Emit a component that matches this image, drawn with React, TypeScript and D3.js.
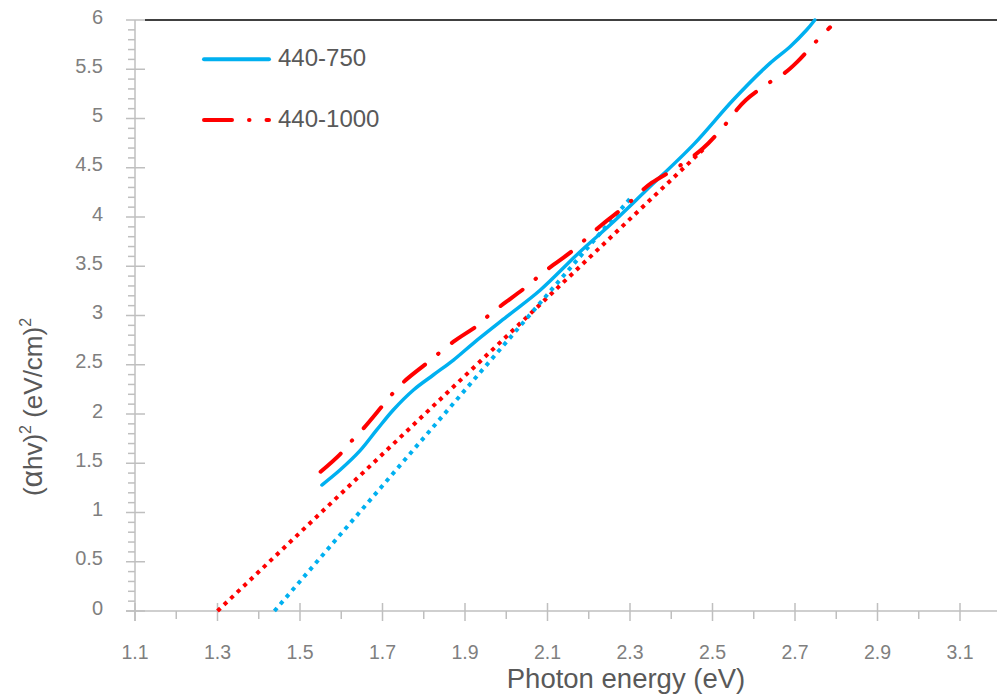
import React from "react";
import * as d3 from "d3";

const blueX = [1.553, 1.597, 1.645, 1.686, 1.726, 1.775, 1.823, 1.872, 1.92, 2.001, 2.082, 2.179, 2.26, 2.34, 2.455, 2.55, 2.639, 2.688, 2.728, 2.748];
const blueY = [1.279, 1.431, 1.625, 1.838, 2.041, 2.244, 2.396, 2.548, 2.718, 2.988, 3.256, 3.648, 3.952, 4.274, 4.74, 5.188, 5.56, 5.729, 5.898, 6.0];

const redX = [1.55, 1.597, 1.625, 1.652, 1.698, 1.725, 1.752, 1.807, 1.872, 1.932, 1.961, 1.993, 2.051, 2.082, 2.114, 2.163, 2.203, 2.234, 2.292, 2.32, 2.353, 2.415, 2.477, 2.53, 2.555, 2.581, 2.641, 2.676, 2.706, 2.756, 2.785];
const redY = [1.414, 1.591, 1.726, 1.845, 2.074, 2.21, 2.328, 2.515, 2.734, 2.904, 3.015, 3.117, 3.299, 3.411, 3.513, 3.665, 3.817, 3.929, 4.122, 4.234, 4.348, 4.505, 4.697, 4.934, 5.069, 5.188, 5.374, 5.465, 5.577, 5.804, 5.926];

const blueFitX = [1.438, 2.305];
const blueFitY = [0, 4.21];
const redFitX = [1.3, 2.477];
const redFitY = [0, 4.684];

const xTicks = [1.1, 1.3, 1.5, 1.7, 1.9, 2.1, 2.3, 2.5, 2.7, 2.9, 3.1];
const yTicks = [0, 0.5, 1, 1.5, 2, 2.5, 3, 3.5, 4, 4.5, 5, 5.5, 6];

const seriesNames = ["440-750", "440-1000"];

const BLUE = "#00B0F0";
const RED = "#FF0000";
const AXIS = "#BFBFBF";
const FONT = "'Liberation Sans', Arial, sans-serif";

export default function App() {
  const x = d3.scaleLinear().domain([1.1, 3.2]).range([135, 1001.25]);
  const y = d3.scaleLinear().domain([0, 6]).range([611, 20]);

  const line = d3
    .line<[number, number]>()
    .x((d) => x(d[0]))
    .y((d) => y(d[1]))
    .curve(d3.curveCatmullRom.alpha(0.5));
  const straight = d3
    .line<[number, number]>()
    .x((d) => x(d[0]))
    .y((d) => y(d[1]));

  const blue = blueX.map((v, i) => [v, blueY[i]] as [number, number]);
  const red = redX.map((v, i) => [v, redY[i]] as [number, number]);
  const bFit = blueFitX.map((v, i) => [v, blueFitY[i]] as [number, number]);
  const rFit = redFitX.map((v, i) => [v, redFitY[i]] as [number, number]);

  const xMinor = d3.range(1.2, 3.2, 0.2);
  const yMinor = d3.range(0, 60).map((i) => i / 10).filter((v) => Math.round(v * 10) % 5 !== 0);

  return (
    <svg
      width={997}
      height={698}
      style={{ position: "absolute", left: 0, top: 0, background: "#fff" }}
      fontFamily={FONT}
    >
      <rect x={0} y={0} width={997} height={698} fill="#fff" />
      {/* top border */}
      <line x1={145} x2={997} y1={y(6)} y2={y(6)} stroke="#000" strokeWidth={1.5} />

      {/* axes */}
      <line x1={x(1.1)} x2={x(1.1)} y1={y(6)} y2={621} stroke={AXIS} strokeWidth={1.5} />
      <line x1={126} x2={997} y1={y(0)} y2={y(0)} stroke={AXIS} strokeWidth={1.5} />
      {yTicks.map((t) => (
        <line key={"ym" + t} x1={126} x2={145} y1={y(t)} y2={y(t)} stroke={AXIS} strokeWidth={1.5} />
      ))}
      {yMinor.map((t) => (
        <line key={"yn" + t} x1={128} x2={135} y1={y(t)} y2={y(t)} stroke={AXIS} strokeWidth={1.5} />
      ))}
      {xTicks.map((t) => (
        <line key={"xm" + t} x1={x(t)} x2={x(t)} y1={603} y2={621} stroke={AXIS} strokeWidth={1.5} />
      ))}
      {xMinor.map((t) => (
        <line key={"xn" + t} x1={x(t)} x2={x(t)} y1={611} y2={619} stroke={AXIS} strokeWidth={1.5} />
      ))}

      {/* tick labels */}
      {yTicks.map((t) => (
        <text key={"yl" + t} x={103} y={y(t) + 3.5} textAnchor="end" fontSize={20} fill="#7F7F7F">
          {String(t)}
        </text>
      ))}
      {xTicks.map((t) => (
        <text key={"xl" + t} x={x(t)} y={659} textAnchor="middle" fontSize={19.5} fill="#7F7F7F">
          {t.toFixed(1)}
        </text>
      ))}

      {/* axis titles */}
      <text x={626} y={688} textAnchor="middle" fontSize={27.5} fill="#595959">
        Photon energy (eV)
      </text>
      <text
        transform={`translate(42,407) rotate(-90)`}
        textAnchor="middle"
        fontSize={26}
        fill="#595959"
      >
        (<tspan fontSize={30}>α</tspan>hv)<tspan fontSize={16} dy={-11}>2</tspan>
        <tspan dy={11}> (eV/cm)</tspan>
        <tspan fontSize={16} dy={-11}>2</tspan>
      </text>

      {/* fit lines */}
      <path d={straight(rFit) || ""} fill="none" stroke={RED} strokeWidth={4} strokeDasharray="4 5" />
      <path d={straight(bFit) || ""} fill="none" stroke={BLUE} strokeWidth={4} strokeDasharray="4 5" />

      {/* data */}
      <path d={line(blue) || ""} fill="none" stroke={BLUE} strokeWidth={3.5} strokeLinecap="round" />
      <path
        d={line(red) || ""}
        fill="none"
        stroke={RED}
        strokeWidth={4}
        strokeLinecap="round"
        strokeDasharray="27 17 0.5 17"
      />

      {/* legend */}
      <line x1={204} x2={269} y1={59.3} y2={59.3} stroke={BLUE} strokeWidth={4} strokeLinecap="round" />
      <text x={278} y={65.5} fontSize={24} fill="#595959">
        {seriesNames[0]}
      </text>
      <line
        x1={204}
        x2={269}
        y1={120}
        y2={120}
        stroke={RED}
        strokeWidth={4}
        strokeLinecap="round"
        strokeDasharray="28 17 0.5 17"
      />
      <text x={278} y={127} fontSize={24} fill="#595959">
        {seriesNames[1]}
      </text>
    </svg>
  );
}
